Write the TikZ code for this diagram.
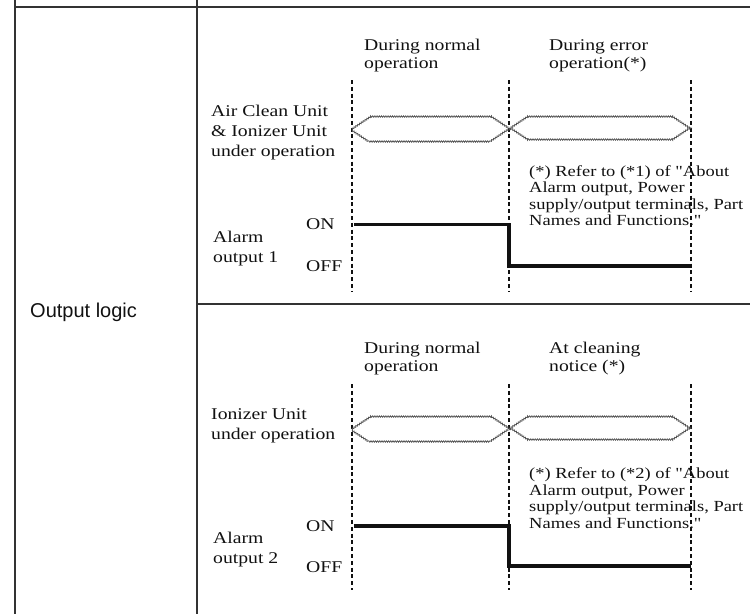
\documentclass[tikz,border=0pt]{standalone}
\usepackage{fontspec}
\setmainfont{Liberation Serif}[FakeStretch=1.2,Ligatures=TeXOff]
\newfontfamily\labelsans{Liberation Sans}
\usetikzlibrary{decorations.pathmorphing}
\definecolor{ink}{HTML}{111111}
\definecolor{rule}{HTML}{333333}
\definecolor{busgray}{HTML}{555555}

\begin{document}
% Multi-line text nodes are placed by the baseline of their last line.
\begin{tikzpicture}[x=1pt,y=-1pt,
  tabline/.style={draw=rule,line width=2pt},
  guide/.style={draw=ink,line width=1.1pt,dash pattern=on 4pt off 2.8pt},
  busline/.style={draw=busgray,line width=0.8pt,decorate,
    decoration={snake,amplitude=0.7pt,segment length=2.2pt}},
  level/.style={draw=ink,line width=3.2pt,line join=miter},
  txt/.style={inner sep=0pt,anchor=base west,align=left,text=ink,
    font=\fontsize{16.4}{18}\selectfont},
  side/.style={txt,font=\fontsize{16.4}{20}\selectfont},
  note/.style={txt,font=\fontsize{15.4}{16.5}\selectfont},
]
\useasboundingbox (0,0) rectangle (750,614);

% table rules
\draw[tabline] (15,0) -- (15,614) (197,0) -- (197,614);
\draw[tabline] (15,7) -- (750,7) (197,304) -- (750,304);
\node[inner sep=0pt,anchor=west,text=ink,font=\labelsans\fontsize{20}{24}\selectfont]
  (rowname) at (30,312) {Output logic};

% ---------- alarm output 1 ----------
\foreach \x/\n in {352/a,509/b,691/c}{
  \coordinate (ut\n) at (\x,80);
  \coordinate (ub\n) at (\x,292);
  \draw[guide] (ut\n) -- (ub\n);
}
\node[txt] (uh1) at (364,68) {During normal\\operation};
\node[txt] (uh2) at (549,68) {During error\\operation(*)};
\node[side] (ulab) at (211,156) {Air Clean Unit\\\& Ionizer Unit\\under operation};

\draw[busline] (352,129) -- (370,117) -- (491,117) -- (509,129) -- (491,141) -- (370,141) -- cycle;
\draw[busline] (509,129) -- (527,117) -- (673,117) -- (691,129) -- (673,141) -- (527,141) -- cycle;

\node[txt] (uon) at (306,229) {ON};
\node[txt] (uoff) at (306,271.7) {OFF};
\node[side] (ualarm) at (213,262) {Alarm\\output 1};
\coordinate (us1) at (354,224.5);
\coordinate (us2) at (509,224.5);
\coordinate (us3) at (509,266);
\coordinate (us4) at (691,266);
\draw[level] (us1) -- (us2) -- (us3) -- (us4);
\node[note] (unote) at (529,225.5) {(*) Refer to (*1) of "About\\Alarm output, Power\\supply/output terminals, Part\\Names and Functions."};

% ---------- alarm output 2 ----------
\foreach \x/\n in {352/a,509/b,691/c}{
  \coordinate (lt\n) at (\x,384);
  \coordinate (lb\n) at (\x,590);
  \draw[guide] (lt\n) -- (lb\n);
}
\node[txt] (lh1) at (364,371) {During normal\\operation};
\node[txt] (lh2) at (549,371) {At cleaning\\notice (*)};
\node[side] (llab) at (211,439) {Ionizer Unit\\under operation};

\draw[busline] (352,429) -- (370,417) -- (491,417) -- (509,429) -- (491,441) -- (370,441) -- cycle;
\draw[busline] (509,429) -- (527,417) -- (673,417) -- (691,429) -- (673,441) -- (527,441) -- cycle;

\node[txt] (lon) at (306,531) {ON};
\node[txt] (loff) at (306,572) {OFF};
\node[side] (lalarm) at (213,563) {Alarm\\output 2};
\coordinate (ls1) at (354,526);
\coordinate (ls2) at (509,526);
\coordinate (ls3) at (509,566);
\coordinate (ls4) at (691,566);
\draw[level] (ls1) -- (ls2) -- (ls3) -- (ls4);
\node[note] (lnote) at (529,528) {(*) Refer to (*2) of "About\\Alarm output, Power\\supply/output terminals, Part\\Names and Functions."};
\end{tikzpicture}
\end{document}
